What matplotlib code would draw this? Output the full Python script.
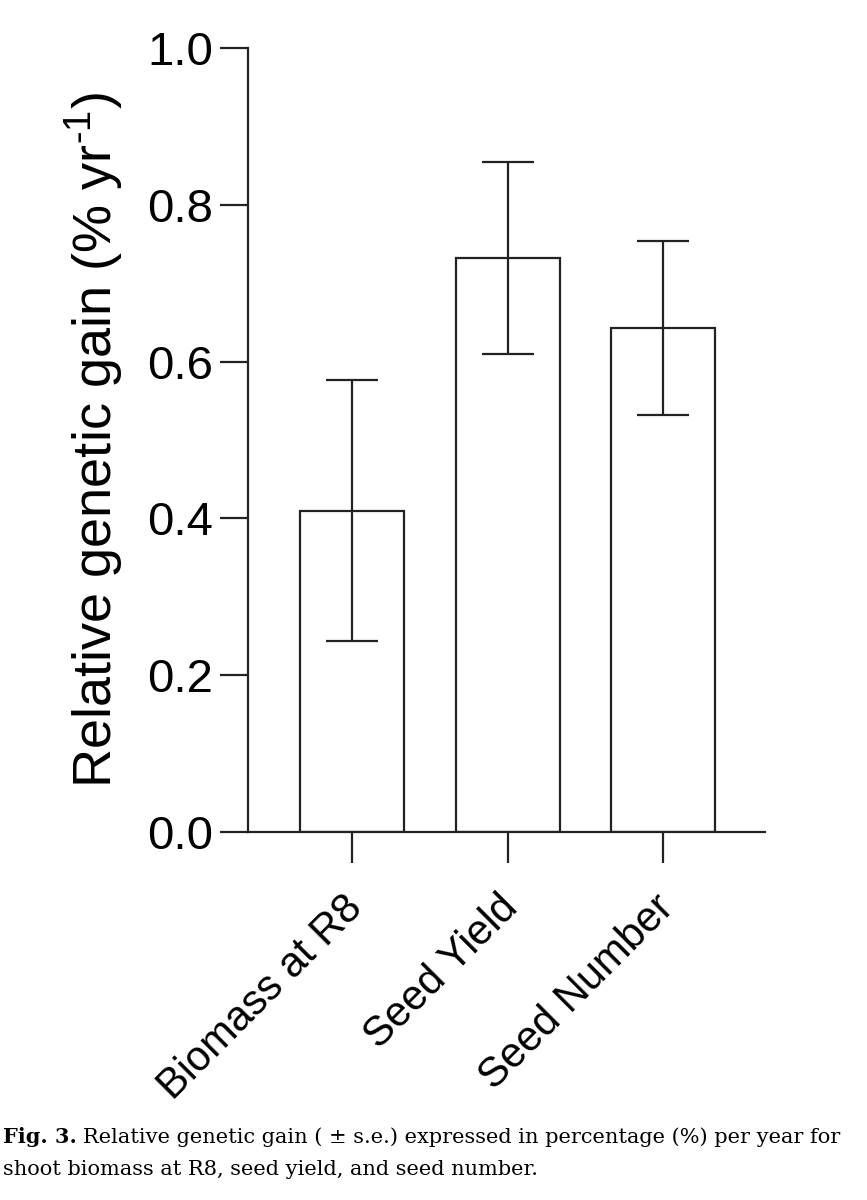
import matplotlib
matplotlib.use("Agg")
import matplotlib.pyplot as plt
import matplotlib.transforms as mtransforms
import numpy as np

categories = ["Biomass at R8", "Seed Yield", "Seed Number"]
gain = [0.41, 0.732, 0.643]
se = [0.167, 0.122, 0.111]
y_ticks = [0.0, 0.2, 0.4, 0.6, 0.8, 1.0]

plt.rcParams['font.family'] = 'sans-serif'
plt.rcParams['font.sans-serif'] = ['Liberation Sans', 'DejaVu Sans']
plt.rcParams['mathtext.fontset'] = 'custom'
plt.rcParams['mathtext.rm'] = 'Liberation Sans'
plt.rcParams['mathtext.default'] = 'rm'

fig = plt.figure(figsize=(8.67, 12), dpi=100)
ax = fig.add_axes([0.286, 0.3067, 0.596, 0.6533])

x = np.arange(len(categories))
ax.bar(x, gain, width=0.667, color='white', edgecolor='#222222', linewidth=1.6,
       zorder=2)
ax.errorbar(x, gain, yerr=se, fmt='none', ecolor='#222222', elinewidth=1.6,
            capsize=19, capthick=1.6, zorder=3)

ax.set_xlim(-0.667, 2.65)
ax.set_ylim(0, 1.0)
ax.set_yticks(y_ticks)
ax.set_yticklabels([f"{v:.1f}" for v in y_ticks])
ax.set_xticks(x)

for s in ['top', 'right']:
    ax.spines[s].set_visible(False)
for s in ['left', 'bottom']:
    ax.spines[s].set_linewidth(1.6)
    ax.spines[s].set_color('#222222')

ax.tick_params(axis='y', length=20, width=1.6, color='#222222', labelsize=34, pad=5)
ax.tick_params(axis='x', length=22, width=1.6, color='#222222', labelsize=30, pad=10)
ax.set_xticklabels(categories, rotation=45, ha='right', rotation_mode='anchor')
# nudge the rotated labels (must come after tick_params, which resets transforms)
shift = mtransforms.ScaledTranslation(-10 / 100, -11 / 100, fig.dpi_scale_trans)
for lab in ax.get_xticklabels():
    lab.set_transform(lab.get_transform() + shift)

ax.set_ylabel('Relative genetic gain (% yr$^{\\text{-}1}$)', fontsize=39, labelpad=15)

# caption
serif = 'DejaVu Serif'
line1 = "Relative genetic gain ( \u00b1 s.e.) expressed in percentage (%) per year for"
size = 16
t1 = fig.text(0.003, 0.0475, "Fig. 3.", family=serif, fontweight='bold', fontsize=size,
              va='baseline')
t2 = fig.text(0.1, 0.0475, line1, family=serif, fontsize=size, va='baseline')
t3 = fig.text(0.003, 0.0208, "shoot biomass at R8, seed yield, and seed number.",
              family=serif, fontsize=size, va='baseline')
fig.canvas.draw()
# scale caption so the first line fills the width like the original
w = t1.get_window_extent().width + 7 + t2.get_window_extent().width
size = size * 838 / w
for t in (t1, t2, t3):
    t.set_fontsize(size)
fig.canvas.draw()
bb = t1.get_window_extent()
t2.set_x((bb.x1 + 7) / fig.bbox.width)

fig.savefig("out.png", dpi=100)
